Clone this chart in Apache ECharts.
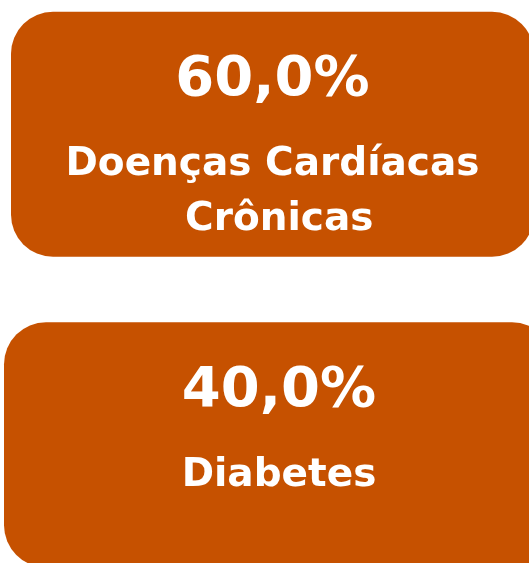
<!DOCTYPE html>
<html>
<head>
<meta charset="utf-8">
<script src="https://cdn.jsdelivr.net/npm/echarts@6/dist/echarts.min.js"></script>
<style>
  html, body { margin: 0; padding: 0; background: #fff; }
  #chart { width: 529px; height: 563px; }
</style>
</head>
<body>
<div id="chart"></div>
<script>
// card data
const categories = ['Doenças Cardíacas Crônicas', 'Diabetes']
const values = [60.0, 40.0]

// card horizontal extents (px)
const cardLeft = [11, 4]
const cardRight = [534, 554]
const cardHeight = 245

const chart = echarts.init(document.getElementById('chart'))

function fmt(v) {
  return v.toFixed(1).replace('.', ',') + '%'
}

chart.setOption({
  animation: false,
  grid: { left: 0, right: 0, top: -21, height: 621, outerBoundsMode: 'none', containLabel: false },
  xAxis: { type: 'value', show: false, min: 0, max: 100 },
  yAxis: { type: 'category', show: false, inverse: true, data: categories },
  series: [
    {
      type: 'custom',
      data: values.map((v, i) => [v, i]),
      renderItem(params, api) {
        const i = params.dataIndex
        const cy = api.coord([0, api.value(1)])[1]
        const top = cy - cardHeight / 2
        const left = cardLeft[i]
        const w = cardRight[i] - left
        const cx = left + w / 2
        return {
          type: 'group',
          children: [
            {
              type: 'rect',
              shape: { x: left, y: top, width: w, height: cardHeight, r: 42 },
              style: { fill: '#C65100' }
            },
            {
              type: 'text',
              x: cx,
              y: top + 69,
              style: {
                text: fmt(api.value(0)),
                fill: '#fff',
                font: 'bold 56px "DejaVu Sans"',
                align: 'center',
                verticalAlign: 'middle'
              }
            },
            {
              type: 'text',
              x: cx,
              y: top + 126,
              style: {
                text: categories[i],
                fill: '#fff',
                font: 'bold 39px "DejaVu Sans"',
                lineHeight: 55,
                width: 460,
                overflow: 'break',
                align: 'center',
                verticalAlign: 'top'
              }
            }
          ]
        }
      }
    }
  ]
})
</script>
</body>
</html>
